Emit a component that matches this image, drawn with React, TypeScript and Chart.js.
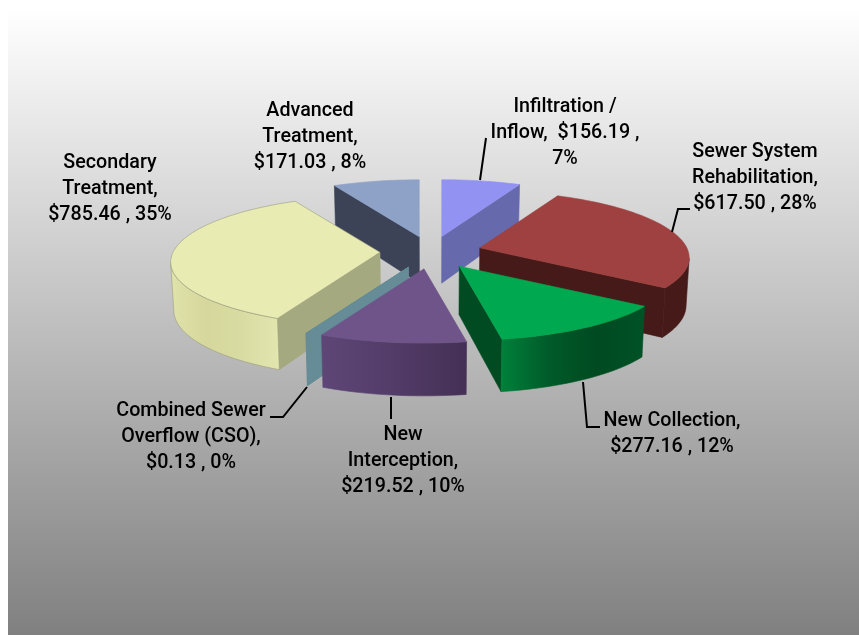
import React, { useEffect, useRef } from "react";
import { Chart, registerables } from "chart.js";

Chart.register(...registerables);

const categories = [
  "Infiltration / Inflow",
  "Sewer System Rehabilitation",
  "New Collection",
  "New Interception",
  "Combined Sewer Overflow (CSO)",
  "Secondary Treatment",
  "Advanced Treatment",
];
const values = [156.19, 617.5, 277.16, 219.52, 0.13, 785.46, 171.03];
const topColors = ["#9292F2", "#9E4140", "#00A84F", "#6E5488", "#658C97", "#E8ECB2", "#8EA2C8"];
const wallColors = ["#6669AB", "#451A18", "#004B22", "#443055", "#658C97", "#A5A97F", "#3C4356"];
const rimColors = ["#9292F2", "#9E4140", "#00A84F", "#6E5488", "#658C97", "#9A9C7C", "#8EA2C8"];
const curveStops: string[][] = [
  ["#6669AB", "#6669AB"],
  ["#451A18", "#451A18"],
  ["#00803A", "#005A29", "#004A21", "#005226"],
  ["#5E4676", "#523C68", "#443055"],
  ["#658C97", "#658C97"],
  ["#E0E3AA", "#D5D79C", "#D9DCA2", "#E2E5AE"],
  ["#3C4356", "#3C4356"],
];
const labelLines = [
  ["Infiltration /", "Inflow,  $156.19 ,", "7%"],
  ["Sewer System", "Rehabilitation,", "$617.50 , 28%"],
  ["New Collection,", "$277.16 , 12%"],
  ["New", "Interception,", "$219.52 , 10%"],
  ["Combined Sewer", "Overflow (CSO),", "$0.13 , 0%"],
  ["Secondary", "Treatment,", "$785.46 , 35%"],
  ["Advanced", "Treatment,", "$171.03 , 8%"],
];
// label layout, in canvas pixels: centre x, centre y of the first line
const labelAnchors = [
  [557, 99],
  [747, 144],
  [664, 413],
  [395, 427],
  [183, 403],
  [102, 155],
  [302, 103],
];
const leaderLines: number[][][] = [
  [[478, 130], [472, 172]],
  [[682, 201], [670, 201], [664, 224]],
  [[575, 374], [579, 419], [592, 419]],
  [[383, 389], [383, 411]],
  [[262, 409], [275, 409], [299, 379]],
];

const RADIUS = 150;
const OFFSET = 150; // Chart.js applies offset / 4 along the slice's middle angle
const KX = 207 / RADIUS;
const KX_SHIFT = 204 / RADIUS;
const KY = 64.4 / RADIUS;
const KY_SHIFT = 65.5 / RADIUS;
const PERSP = 0.1486 / RADIUS;
const PERSP_Y = 0.1326 / RADIUS;
const DEPTH = 47.5;

const pie3d = {
  id: "pie3d",
  beforeDraw(chart: any) {
    const { ctx, width, height } = chart;
    const g = ctx.createLinearGradient(0, 0, 0, height);
    g.addColorStop(0, "#FFFFFF");
    g.addColorStop(1, "#808080");
    ctx.save();
    ctx.fillStyle = g;
    ctx.fillRect(0, 0, width, height);
    ctx.restore();
  },
  beforeDatasetDraw(chart: any) {
    const { ctx } = chart;
    const meta = chart.getDatasetMeta(0);
    const ds = chart.data.datasets[0];
    const arcs = meta.data.map((arc: any, i: number) => ({ arc, i }));
    const mid = (a: any) => (a.startAngle + a.endAngle) / 2 + Math.PI / 2;
    arcs.sort((a: any, b: any) => Math.cos(mid(b.arc)) - Math.cos(mid(a.arc)));

    for (const { arc, i } of arcs) {
      const shift = (arc.options.offset || 0) / 4;
      const m = mid(arc);
      const ou = shift * Math.sin(m);
      const ov = shift * Math.cos(m);
      const ow = 1 + PERSP * ov;
      const ax = arc.x + (KX_SHIFT * ou) / ow;
      const ay = arc.y - (KY_SHIFT * ov) / ow;
      const top = (r: number, th: number) => {
        const u = r * Math.sin(th);
        const v = r * Math.cos(th);
        return {
          x: ax + (KX * u) / (1 + PERSP * v),
          y: ay - (KY * v) / (1 + PERSP_Y * v),
          v: v + ov,
        };
      };
      const bottom = (p: any) => ({
        x: arc.x + (p.x - arc.x) * 0.988,
        y: p.y + DEPTH / (1 + (0.08 * p.v) / RADIUS),
      });
      const R = arc.outerRadius;
      const s = arc.startAngle + Math.PI / 2;
      const e = arc.endAngle + Math.PI / 2;
      const apex = top(0, 0);
      const N = Math.max(2, Math.ceil(((e - s) * 180) / Math.PI / 2));
      const rim: any[] = [];
      for (let k = 0; k <= N; k++) rim.push(top(R, s + ((e - s) * k) / N));

      const poly = (pts: any[], fill: any, edge?: string) => {
        ctx.beginPath();
        pts.forEach((p, k) => (k ? ctx.lineTo(p.x, p.y) : ctx.moveTo(p.x, p.y)));
        ctx.closePath();
        ctx.fillStyle = fill;
        ctx.strokeStyle = edge || fill;
        ctx.lineWidth = 0.6;
        ctx.fill();
        ctx.stroke();
      };

      // radial walls
      const inner = top(R * 0.5, (s + e) / 2);
      for (const end of [rim[0], rim[N]]) {
        const ex = end.x - apex.x;
        const ey = end.y - apex.y;
        // y of the edge line under the slice's inner point: wall shows if the slice lies above the edge
        const sign = ex === 0 ? 0 : apex.y + (ey * (inner.x - apex.x)) / ex - inner.y;
        const thin = e - s < 0.01;
        if (sign > 0 || thin) {
          poly([apex, end, bottom(end), bottom(apex)], wallColors[i]);
        }
      }

      // the curved wall: the part of the rim that runs right to left faces the viewer
      const run: any[] = [];
      for (let k = 0; k < N; k++) {
        if (rim[k + 1].x < rim[k].x) {
          if (!run.length) run.push(rim[k]);
          run.push(rim[k + 1]);
        }
      }
      if (run.length > 1 && e - s > 0.01) {
        const xs = run.map((p) => p.x);
        const x0 = Math.min(...xs);
        const x1 = Math.max(...xs);
        const g = ctx.createLinearGradient(x0, 0, x1, 0);
        curveStops[i].forEach((c, k, list) => g.addColorStop(k / (list.length - 1), c));
        poly([...run, ...run.slice().reverse().map(bottom)], g, rimColors[i] === topColors[i] ? undefined : rimColors[i]);
      }

      // top face
      poly([apex, ...rim], ds.backgroundColor[i], rimColors[i]);
    }
    return false;
  },
  afterDraw(chart: any) {
    const { ctx } = chart;
    ctx.save();
    ctx.strokeStyle = "#000000";
    ctx.lineWidth = 2;
    for (const line of leaderLines) {
      ctx.beginPath();
      line.forEach(([x, y], k) => (k ? ctx.lineTo(x, y) : ctx.moveTo(x, y)));
      ctx.stroke();
    }
    ctx.fillStyle = "#000000";
    ctx.font = "500 19.7px Roboto";
    ctx.textAlign = "center";
    ctx.textBaseline = "middle";
    labelLines.forEach((lines, i) => {
      lines.forEach((t, k) => {
        ctx.fillText(t, labelAnchors[i][0], labelAnchors[i][1] + k * 26);
      });
    });
    ctx.restore();
  },
};

export default function App() {
  const ref = useRef<HTMLCanvasElement | null>(null);
  useEffect(() => {
    const chart = new Chart(ref.current as HTMLCanvasElement, {
      type: "pie",
      data: {
        labels: categories,
        datasets: [
          {
            data: values,
            backgroundColor: topColors,
            borderWidth: 0,
            offset: OFFSET,
            hoverOffset: 0,
          },
        ],
      },
      options: {
        responsive: false,
        animation: false,
        radius: RADIUS,
        layout: { padding: { left: 0, right: 5, top: 0, bottom: 139 } },
        plugins: { legend: { display: false }, tooltip: { enabled: false } },
      } as any,
      plugins: [pie3d as any],
    });
    return () => chart.destroy();
  }, []);
  return (
    <div style={{ position: "absolute", left: 8, top: 8, width: 851, height: 627 }}>
      <canvas ref={ref} width={851} height={627} style={{ display: "block" }} />
    </div>
  );
}
